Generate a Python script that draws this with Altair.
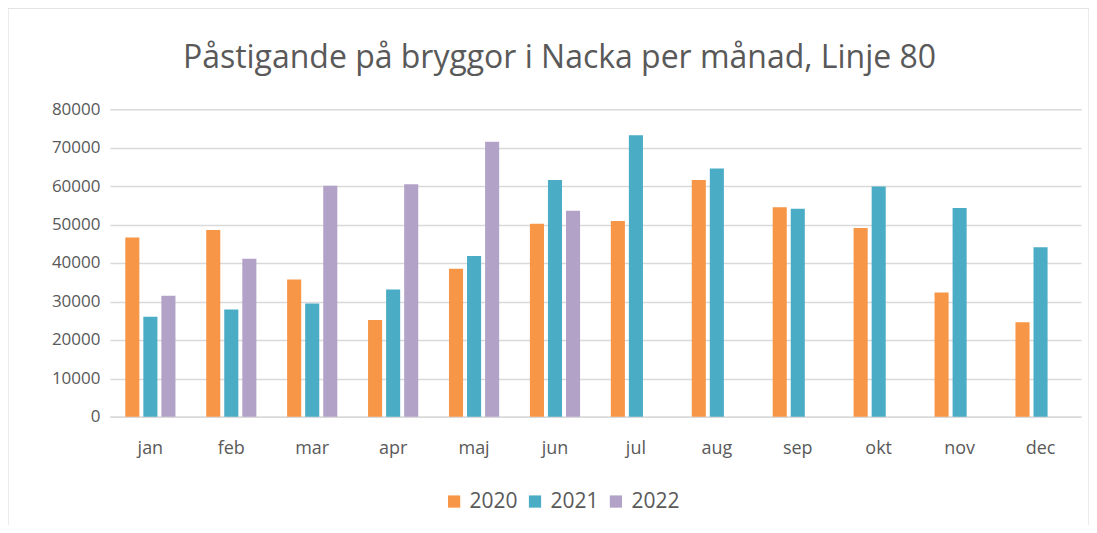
import altair as alt
import pandas as pd

months = ["jan", "feb", "mar", "apr", "maj", "jun", "jul", "aug", "sep", "okt", "nov", "dec"]
years = ["2020", "2021", "2022"]
v2020 = [46600, 48600, 35700, 25200, 38500, 50200, 50900, 61600, 54500, 49100, 32300, 24600]
v2021 = [26000, 27900, 29500, 33100, 41800, 61600, 73200, 64600, 54100, 59900, 54300, 44100]
v2022 = [31500, 41100, 60100, 60500, 71500, 53600]
colors = ["#F79646", "#4BACC6", "#B3A2C7"]
y_ticks = [0, 10000, 20000, 30000, 40000, 50000, 60000, 70000, 80000]

rows = []
for yr, vals in zip(years, [v2020, v2021, v2022]):
    for m, v in zip(months, vals):
        rows.append({"month": m, "year": yr, "value": v})
df = pd.DataFrame(rows)

FONT = "Open Sans"
TXT = "#595959"
GRID = "#d9d9d9"

bars = alt.Chart(df).mark_bar().encode(
    x=alt.X("month:N", sort=months,
            scale=alt.Scale(paddingInner=0.38, paddingOuter=0.19),
            axis=alt.Axis(title=None, labelAngle=0, ticks=False, domain=True,
                          domainColor=GRID, domainWidth=1.5, labelPadding=23,
                          labelFontSize=18, labelColor=TXT, labelFont=FONT)),
    xOffset=alt.XOffset("year:N", sort=years, scale=alt.Scale(paddingInner=0.22)),
    y=alt.Y("value:Q", scale=alt.Scale(domain=[0, 80000], nice=False),
            axis=alt.Axis(title=None, values=y_ticks, format="d", ticks=False,
                          domain=False, grid=True, gridColor=GRID, gridWidth=1.5,
                          labelPadding=10, labelFontSize=17, labelColor=TXT,
                          labelFont=FONT)),
    color=alt.Color("year:N", scale=alt.Scale(domain=years, range=colors),
                    legend=alt.Legend(title=None, orient="none", legendX=334,
                                      legendY=382, direction="horizontal",
                                      symbolType="square", symbolSize=150,
                                      symbolStrokeWidth=0, labelFontSize=21,
                                      labelColor=TXT, labelFont=FONT,
                                      columnPadding=6, labelOffset=5)),
)

frame = alt.Chart(alt.Data(values=[{}])).mark_rect(
    fill=None, stroke=GRID, strokeWidth=1
).encode(
    x=alt.value(-102), x2=alt.value(980), y=alt.value(-101), y2=alt.value(600)
)

chart = alt.layer(frame, bars).properties(
    width=972, height=308,
    background="white",
    title=alt.Title("Påstigande på bryggor i Nacka per månad, Linje 80",
                    fontSize=32, font=FONT, fontWeight="normal", color=TXT,
                    anchor="middle", dx=-36, offset=-67),
    padding={"left": 102, "top": 101, "right": 8, "bottom": 108},
    autosize=alt.AutoSizeParams(type="none"),
).configure_view(stroke=None)

chart.save("out.html", embed_options={"renderer": "svg", "actions": False})
